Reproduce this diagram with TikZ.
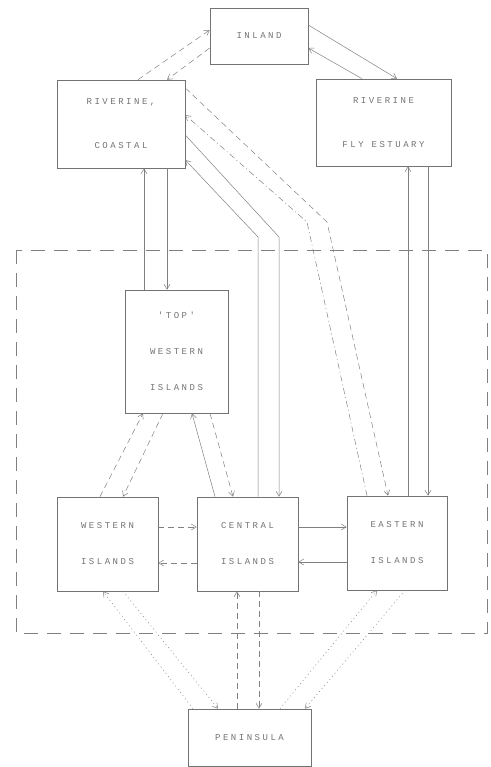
\documentclass[tikz,border=0pt]{standalone}
\usepackage{fontspec}
\usetikzlibrary{arrows.meta}
\newfontfamily\boxfont{Liberation Mono}[LetterSpace=28]
\begin{document}
\begin{tikzpicture}[
    x=1pt, y=-1pt,
    >={Straight Barb[length=5pt, width=6pt]},
    box/.style={draw=black!55, line width=0.6pt, align=center, text=black!55,
        font=\boxfont\fontsize{9}{36}\selectfont, inner sep=0pt},
    link/.style={draw=black!50, line width=0.5pt, ->},
    dashlink/.style={link, dash pattern=on 6pt off 4pt},
    dotlink/.style={link, dash pattern=on 1pt off 3pt},
    dotdash/.style={link, dash pattern=on 6pt off 3pt on 1pt off 3pt},
]
\useasboundingbox (0,0) rectangle (490,767);

% Dashed boundary round the islands
\draw[black!50, line width=0.6pt, dash pattern=on 14pt off 9pt] (16,250) rectangle (487,633);

% Boxes
\node[box, minimum width=98pt, minimum height=56pt] (inland) at (259,36) {INLAND};
\node[box, minimum width=128pt, minimum height=88pt, font=\boxfont\fontsize{9}{44}\selectfont] (coastal) at (121,124) {RIVERINE,\\COASTAL};
\node[box, minimum width=135pt, minimum height=87pt, font=\boxfont\fontsize{9}{44}\selectfont] (estuary) at (383.5,122.5) {RIVERINE\\FLY ESTUARY};
\node[box, minimum width=103pt, minimum height=123pt] (topwest) at (176.5,351.5) {'TOP'\\WESTERN\\ISLANDS};
\node[box, minimum width=101pt, minimum height=94pt] (western) at (107.5,544) {WESTERN\\ISLANDS};
\node[box, minimum width=101pt, minimum height=94pt] (central) at (247.5,544) {CENTRAL\\ISLANDS};
\node[box, minimum width=100pt, minimum height=94pt] (eastern) at (397,543) {EASTERN\\ISLANDS};
\node[box, minimum width=123pt, minimum height=57pt] (peninsula) at (249.5,737.5) {PENINSULA};

% Bends of the long links
\coordinate (bendA) at (327,222);
\coordinate (bendB) at (307,222);
\coordinate (bendC) at (279,237);
\coordinate (bendD) at (258,237);

% Links to the inland
\draw[dashlink] ([xshift=17pt]coastal.north) -- ([yshift=6pt]inland.west);
\draw[dashlink] ([yshift=-12pt]inland.west) -- ([xshift=46pt]coastal.north);
\draw[link] ([yshift=11pt]inland.east) -- ([xshift=13.5pt]estuary.north);
\draw[link] ([xshift=-21.5pt]estuary.north) -- ([yshift=-12pt]inland.east);

% Links up to the riverine boxes
\draw[link] ([xshift=-32.5pt]topwest.north) -- ([xshift=23pt]coastal.south);
\draw[link] ([xshift=46pt]coastal.south) -- ([xshift=-9.5pt]topwest.north);
\draw[link] ([xshift=11pt]eastern.north) -- ([xshift=24.5pt]estuary.south);
\draw[link] ([xshift=44.5pt]estuary.south) -- ([xshift=31pt]eastern.north);
\draw[dashlink] ([yshift=36pt]coastal.east) -- (bendA) -- ([xshift=-9pt]eastern.north);
\draw[dotdash] ([xshift=-30pt]eastern.north) -- (bendB) -- ([yshift=9pt]coastal.east);
\draw[link] ([yshift=-11pt]coastal.east) -- (bendC) -- ([xshift=31.5pt]central.north);
\draw[link] ([xshift=10.5pt]central.north) -- (bendD) -- ([yshift=-36pt]coastal.east);

% 'Top' western islands
\draw[dashlink] ([xshift=-7.5pt]western.north) -- ([xshift=-33.5pt]topwest.south);
\draw[dashlink] ([xshift=-13.5pt]topwest.south) -- ([xshift=15.5pt]western.north);
\draw[link] ([xshift=-32.5pt]central.north) -- ([xshift=15.5pt]topwest.south);
\draw[dashlink] ([xshift=33.5pt]topwest.south) -- ([xshift=-14.5pt]central.north);

% Between the island groups
\draw[dashlink] ([yshift=17pt]western.east) -- ([yshift=17pt]central.west);
\draw[dashlink] ([yshift=-19pt]central.west) -- ([yshift=-19pt]western.east);
\draw[link] ([yshift=17pt]central.east) -- ([yshift=16pt]eastern.west);
\draw[link] ([yshift=-19pt]eastern.west) -- ([yshift=-18pt]central.east);

% Peninsula
\draw[dotlink] ([xshift=-56.5pt]peninsula.north) -- ([xshift=-4.5pt]western.south);
\draw[dotlink] ([xshift=15.5pt]western.south) -- ([xshift=-31.5pt]peninsula.north);
\draw[dashlink] ([xshift=-12.5pt]peninsula.north) -- ([xshift=-10.5pt]central.south);
\draw[dashlink] ([xshift=11.5pt]central.south) -- ([xshift=9.5pt]peninsula.north);
\draw[dotlink] ([xshift=8pt]eastern.south) -- ([xshift=55.5pt]peninsula.north);
\draw[dotlink] ([xshift=30.5pt]peninsula.north) -- ([xshift=-20pt]eastern.south);
\end{tikzpicture}
\end{document}
